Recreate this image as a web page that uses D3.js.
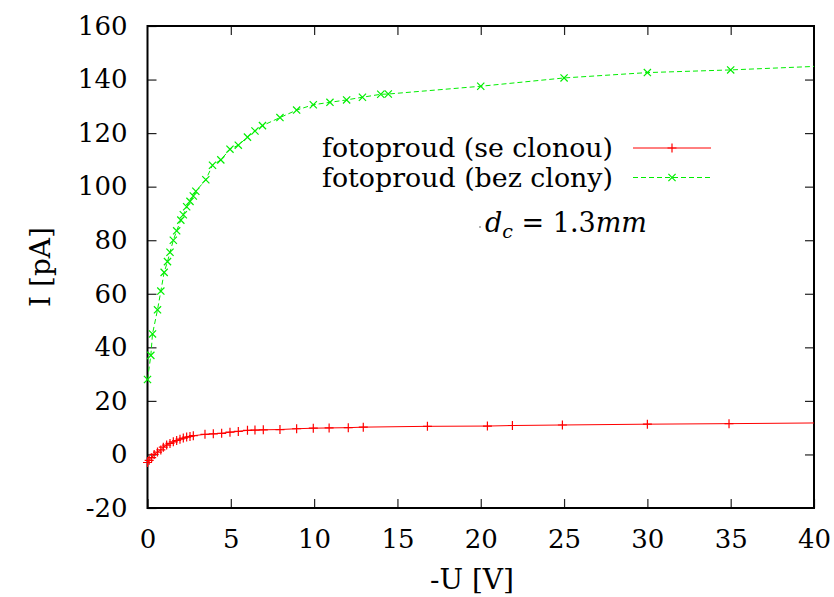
<!DOCTYPE html>
<html>
<head>
<meta charset="utf-8">
<script src="https://cdn.jsdelivr.net/npm/d3@7"></script>
<style>
  body { margin: 0; background: #fff; }
  svg { display: block; }
</style>
</head>
<body>
<div id="chart"></div>
<script>
// fotoproud bez clony (zelena)
const uBez = [0, 0.2, 0.3, 0.6, 0.8, 1.0, 1.2, 1.35, 1.55, 1.75, 2.0, 2.15, 2.35, 2.55, 2.75, 2.9,
  3.5, 3.9, 4.4, 4.95, 5.45, 6.0, 6.45, 6.9, 7.95, 8.95, 9.95, 10.95, 11.95, 12.9, 14.0, 14.45,
  20, 25, 30, 35, 45];
const iBez = [28, 37, 45, 54, 61, 68, 72, 75.5, 80, 83.5, 87.5, 89.5, 92.5, 94.5, 96.5, 98.3,
  102.6, 108, 110, 114, 115.5, 118.5, 120.8, 122.8, 125.8, 128.6, 130.6, 131.5, 132.4, 133.4, 134.5, 134.6,
  137.5, 140.6, 142.6, 143.6, 146.2];

// fotoproud se clonou (cervena)
const uSe = [0, 0.1, 0.25, 0.4, 0.6, 0.8, 0.95, 1.15, 1.35, 1.55, 1.75, 1.95, 2.15, 2.35, 2.55, 2.75,
  3.45, 3.95, 4.45, 4.95, 5.45, 6.0, 6.45, 6.95, 7.95, 8.95, 9.95, 10.9, 12.05, 12.95,
  16.8, 20.4, 21.9, 24.9, 30, 34.9, 45];
const iSe = [-3, -2.2, -1.2, 0, 0.9, 1.7, 2.7, 3.5, 4.1, 4.7, 5.2, 5.7, 6.1, 6.5, 6.7, 7.0,
  7.5, 7.7, 7.9, 8.3, 8.6, 9.0, 9.1, 9.2, 9.3, 9.6, 9.8, 9.9, 10.0, 10.2,
  10.5, 10.6, 10.8, 11.0, 11.3, 11.5, 12.0];

const xTicks = [0, 5, 10, 15, 20, 25, 30, 35, 40];
const yTicks = [-20, 0, 20, 40, 60, 80, 100, 120, 140, 160];
const legendLabels = ["fotoproud (se clonou)", "fotoproud (bez clony)"];

const W = 834, H = 597;
const font = "DejaVu Serif";
const fs = 26;

const svg = d3.select("#chart").append("svg")
  .attr("width", W).attr("height", H)
  .attr("font-family", font);

// osy
const x = d3.scaleLinear().domain([0, 40]).range([147.5, 814]);
const y = d3.scaleLinear().domain([-20, 160]).range([508, 26]);

svg.append("defs").append("clipPath").attr("id", "plotclip")
  .append("rect")
  .attr("x", x(0)).attr("y", y(160))
  .attr("width", x(40) - x(0)).attr("height", y(-20) - y(160));

function styleAxis(g) {
  g.attr("font-family", font).attr("font-size", fs);
  g.select(".domain").remove();
  g.selectAll(".tick line").attr("stroke", "#222").attr("stroke-width", 1.2);
  g.selectAll(".tick text").attr("fill", "#000");
}

svg.append("g").attr("transform", `translate(0,${y(-20)})`)
  .call(d3.axisBottom(x).tickValues(xTicks).tickSize(-9).tickPadding(22).tickFormat(d => String(d)))
  .call(styleAxis);
svg.append("g").attr("transform", `translate(0,${y(160)})`)
  .call(d3.axisTop(x).tickValues(xTicks.slice(1, -1)).tickSize(-9).tickFormat(""))
  .call(styleAxis);
svg.append("g").attr("transform", `translate(${x(0)},0)`)
  .call(d3.axisLeft(y).tickValues(yTicks).tickSize(-9).tickPadding(20).tickFormat(d => String(d)))
  .call(styleAxis);
svg.append("g").attr("transform", `translate(${x(40)},0)`)
  .call(d3.axisRight(y).tickValues(yTicks.slice(1, -1)).tickSize(-9).tickFormat(""))
  .call(styleAxis);

// ramecek
svg.append("rect")
  .attr("x", x(0)).attr("y", y(160))
  .attr("width", x(40) - x(0)).attr("height", y(-20) - y(160))
  .attr("fill", "none").attr("stroke", "#000").attr("stroke-width", 2);

// popisky os
svg.append("text")
  .attr("x", 472).attr("y", 589)
  .attr("text-anchor", "middle")
  .attr("font-size", 28)
  .text("-U [V]");

svg.append("text")
  .attr("transform", `translate(50,${(y(160) + y(-20)) / 2}) rotate(-90)`)
  .attr("text-anchor", "middle")
  .attr("font-size", 28)
  .text("I [pA]");

// znacky
const plus = s => `M${-s},0H${s}M0,${-s}V${s}`;
const cross = s => `M${-s},${-s}L${s},${s}M${-s},${s}L${s},${-s}`;

const series = [
  { u: uSe, i: iSe, color: "#ff0000", dash: null, mark: plus(4.5) },
  { u: uBez, i: iBez, color: "#00ee00", dash: "5,3", mark: cross(3.6) }
];

const plot = svg.append("g");
series.forEach((s, k) => {
  const pts = s.u.map((u, j) => [u, s.i[j]]);
  plot.append("path")
    .datum(pts)
    .attr("clip-path", "url(#plotclip)")
    .attr("fill", "none")
    .attr("stroke", s.color)
    .attr("stroke-width", 1)
    .attr("stroke-dasharray", s.dash)
    .attr("d", d3.line().x(d => x(d[0])).y(d => y(d[1])));

  plot.selectAll(`.m${k}`)
    .data(pts.filter(d => d[0] <= 40))
    .enter().append("path")
    .attr("class", `m${k}`)
    .attr("transform", d => `translate(${x(d[0])},${y(d[1])})`)
    .attr("d", s.mark)
    .attr("fill", "none")
    .attr("stroke", s.color)
    .attr("stroke-width", 1.2);

  // legenda
  const ly = [148, 177.5][k];
  svg.append("text")
    .attr("x", 613).attr("y", ly + 9)
    .attr("text-anchor", "end")
    .attr("font-size", fs)
    .attr("textLength", 291)
    .attr("lengthAdjust", "spacingAndGlyphs")
    .text(legendLabels[k]);
  svg.append("line")
    .attr("x1", 633).attr("x2", 711).attr("y1", ly).attr("y2", ly)
    .attr("stroke", s.color).attr("stroke-width", 1)
    .attr("stroke-dasharray", s.dash);
  svg.append("path")
    .attr("transform", `translate(672,${ly})`)
    .attr("d", s.mark)
    .attr("fill", "none").attr("stroke", s.color).attr("stroke-width", 1.2);
});

// popisek d_c
svg.append("circle").attr("cx", 480).attr("cy", 227).attr("r", 0.8).attr("fill", "#555");
const lab = svg.append("text")
  .attr("x", 485).attr("y", 232)
  .attr("font-size", 27);
lab.append("tspan").attr("font-style", "italic").text("d");
lab.append("tspan").attr("font-style", "italic").attr("font-size", 19).attr("dy", 6).text("c");
lab.append("tspan").attr("dy", -6).text(" = 1.3");
lab.append("tspan").attr("font-style", "italic").text("mm");
</script>
</body>
</html>
